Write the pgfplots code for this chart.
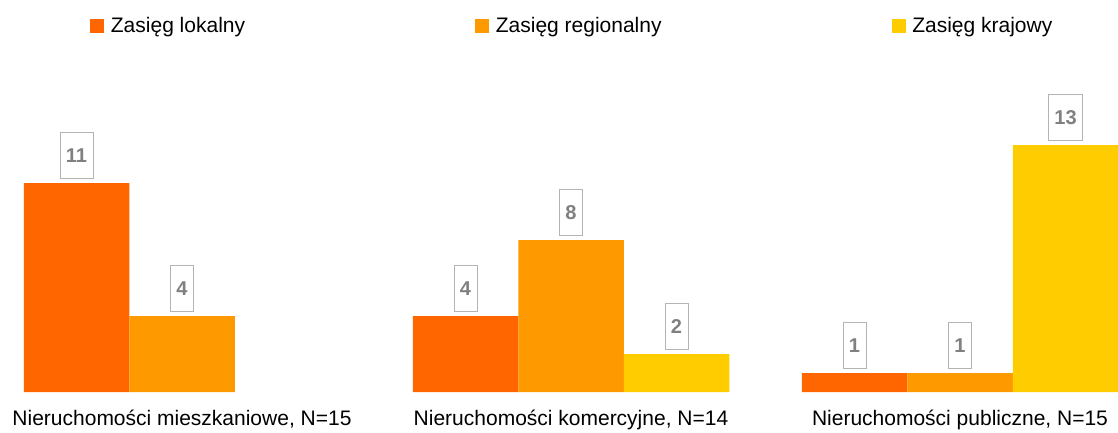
\documentclass[border=0pt]{standalone}
\usepackage{fontspec}
\setmainfont{Liberation Sans}
\usepackage{pgfplots}
\pgfplotsset{compat=1.18}

\definecolor{lokalny}{HTML}{FF6600}
\definecolor{regionalny}{HTML}{FF9900}
\definecolor{krajowy}{HTML}{FFCC00}
\definecolor{lblgray}{HTML}{808080}
\definecolor{boxgray}{HTML}{B4B4B4}

\pgfplotsset{
  sqlegend/.style={legend image code/.code={\fill[##1] (0pt,-7pt) rectangle (14pt,7pt);}},
}

\begin{document}
\begin{tikzpicture}
\begin{axis}[
  scale only axis,
  width=1118pt, height=304pt,
  ybar=0pt, bar width=105.5pt,
  xmin=-0.4679, xmax=2.4062,
  ymin=0, ymax=16,
  axis line style={draw=none},
  tick style={draw=none},
  ytick=\empty,
  xtick={0,1,2},
  xticklabels={Nieruchomości mieszkaniowe{,} N=15,
               Nieruchomości komercyjne{,} N=14,
               Nieruchomości publiczne{,} N=15},
  xticklabel style={font=\fontsize{21}{25}\selectfont, inner sep=0pt, yshift=-14pt},
  /pgf/number format/assume math mode=true,
  nodes near coords,
  every node near coord/.append style={
    font=\bfseries\fontsize{20}{24}\selectfont, text=lblgray,
    draw=boxgray, line width=0.8pt, inner xsep=6pt, inner ysep=0pt,
    minimum height=46pt, anchor=south, yshift=4pt},
  legend columns=3,
  legend style={
    at={(0.0805,1.2039)}, anchor=west,
    draw=none, fill=none, inner sep=0pt,
    nodes={inner sep=0pt},
    font=\fontsize{21}{25}\selectfont,
    /tikz/every odd column/.append style={column sep=6.7pt},
    /tikz/every even column/.append style={column sep=230pt},
  },
  legend cell align=left,
]
\addplot[fill=lokalny, draw=none, sqlegend] coordinates {(0,11) (1,4) (2,1)};
\addplot[fill=regionalny, draw=none, sqlegend] coordinates {(0,4) (1,8) (2,1)};
\addplot[fill=krajowy, draw=none, sqlegend] coordinates {(1,2) (2,13)};
\legend{Zasięg lokalny, Zasięg regionalny, Zasięg krajowy}
\end{axis}
\pgfresetboundingbox
\path[use as bounding box] (0,-40pt) rectangle (1118pt,392pt);
\end{tikzpicture}
\end{document}
